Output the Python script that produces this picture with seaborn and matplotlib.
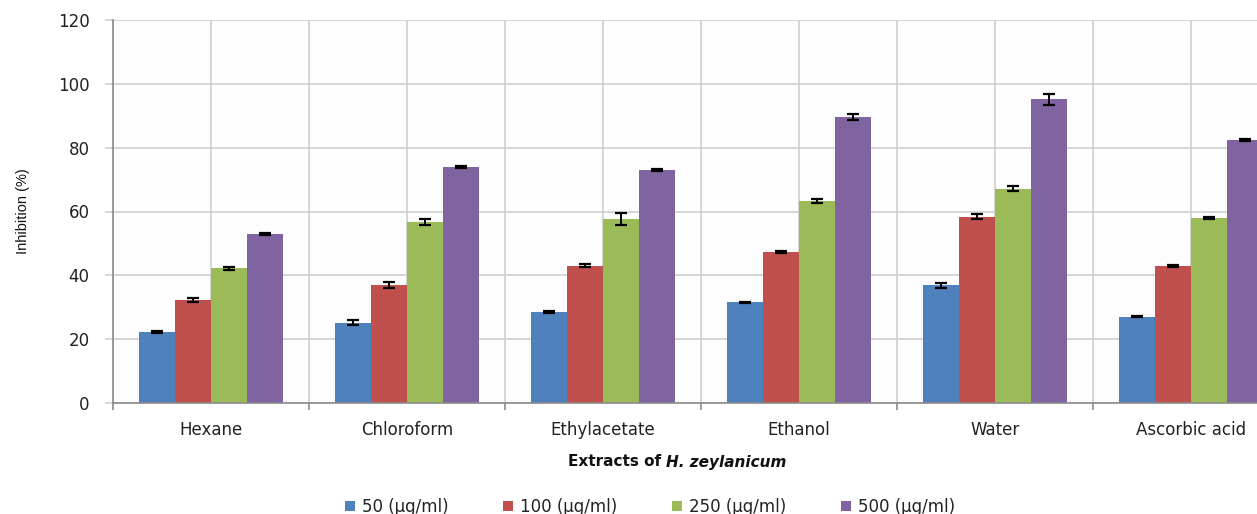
import matplotlib
matplotlib.use("Agg")
import matplotlib.pyplot as plt
import seaborn as sns
import pandas as pd
import numpy as np
from matplotlib.patches import Patch
from matplotlib.ticker import FixedLocator

categories = ["Hexane", "Chloroform", "Ethylacetate", "Ethanol", "Water", "Ascorbic acid"]
series = ["50 (μg/ml)", "100 (μg/ml)", "250 (μg/ml)", "500 (μg/ml)"]
vals_50 = [22.2, 25.2, 28.5, 31.5, 36.9, 27.1]
vals_100 = [32.3, 37.0, 43.0, 47.4, 58.4, 43.0]
vals_250 = [42.2, 56.7, 57.6, 63.4, 67.2, 57.9]
vals_500 = [53.0, 74.0, 73.0, 89.5, 95.2, 82.4]
err_50 = [0.3, 0.7, 0.3, 0.3, 0.8, 0.2]
err_100 = [0.5, 0.9, 0.4, 0.3, 0.8, 0.3]
err_250 = [0.4, 0.9, 1.9, 0.6, 0.7, 0.4]
err_500 = [0.4, 0.4, 0.3, 0.9, 1.7, 0.2]
y_ticks = [0, 20, 40, 60, 80, 100, 120]
colors = ["#4F81BD", "#C0504D", "#9BBB59", "#8064A2"]

values = [vals_50, vals_100, vals_250, vals_500]
errors = [err_50, err_100, err_250, err_500]

rows = []
for s, v in zip(series, values):
    for c, val in zip(categories, v):
        rows.append({"Extract": c, "Concentration": s, "Inhibition": val})
df = pd.DataFrame(rows)

sns.set_theme(style="white")
plt.rcParams["font.family"] = ["DejaVu Sans"]

W, H = 1257, 514
fig = plt.figure(figsize=(W / 100, H / 100), dpi=100)
fig.patch.set_facecolor("white")
left, right, top, bottom = 113, 1289, 20, 403
ax = fig.add_axes([left / W, 1 - bottom / H, (right - left) / W, (bottom - top) / H])
ax.set_facecolor("#FDFDFD")

sns.barplot(data=df, x="Extract", y="Inhibition", hue="Concentration",
            order=categories, hue_order=series, palette=colors,
            width=0.735, gap=0, errorbar=None, saturation=1, legend=False,
            linewidth=0, edgecolor="none", ax=ax)

for cont, err in zip(ax.containers, errors):
    xs = [p.get_x() + p.get_width() / 2 for p in cont.patches]
    hs = [p.get_height() for p in cont.patches]
    ax.errorbar(xs, hs, yerr=err, fmt="none", ecolor="black", elinewidth=1.4,
                capsize=4.5, capthick=1.6, zorder=5)

ax.set_ylim(0, 120)
ax.set_xlim(-0.5, len(categories) - 0.5)
ax.set_yticks(y_ticks)
ax.set_yticklabels([str(t) for t in y_ticks])
ax.xaxis.set_minor_locator(FixedLocator(np.arange(-0.5, len(categories), 1.0)))

grid_c = "#CFCFCF"
ax.grid(True, which="major", axis="both", color=grid_c, linewidth=1.2)
ax.grid(True, which="minor", axis="x", color=grid_c, linewidth=1.2)
ax.set_axisbelow(True)

for s in ["top", "right"]:
    ax.spines[s].set_visible(False)
for s in ["left", "bottom"]:
    ax.spines[s].set_color("#8A8A8A")
    ax.spines[s].set_linewidth(1.2)

ax.tick_params(axis="y", which="major", length=6, width=1.2, color=grid_c, pad=11,
               labelsize=12, labelcolor="#222222", left=True)
ax.tick_params(axis="x", which="major", length=0, pad=13, labelsize=12, labelcolor="#222222")
ax.tick_params(axis="x", which="minor", length=5, width=1.2, color="#8A8A8A", bottom=True)

ax.set_xlabel("")
ax.set_ylabel("Inhibition (%)", fontsize=10.5, color="#111111", labelpad=20,
              family=["Liberation Sans Narrow", "Liberation Sans"])

fig.text(666 / W, 1 - 462 / H, "Extracts of ", ha="right", va="center",
         fontsize=11, weight="bold", color="#111111")
fig.text(666 / W, 1 - 462 / H, "H. zeylanicum", ha="left", va="center",
         fontsize=11, weight="bold", style="italic", color="#111111")

handles = [Patch(facecolor=c, edgecolor="none") for c in colors]
fig.legend(handles, series, loc="center", bbox_to_anchor=(650 / W, 1 - 507 / H),
           ncol=4, frameon=False, fontsize=12, handlelength=0.6, handleheight=0.6,
           handletextpad=0.4, columnspacing=3.3, labelcolor="#222222")

fig.savefig("out.png", dpi=100, facecolor="white")
